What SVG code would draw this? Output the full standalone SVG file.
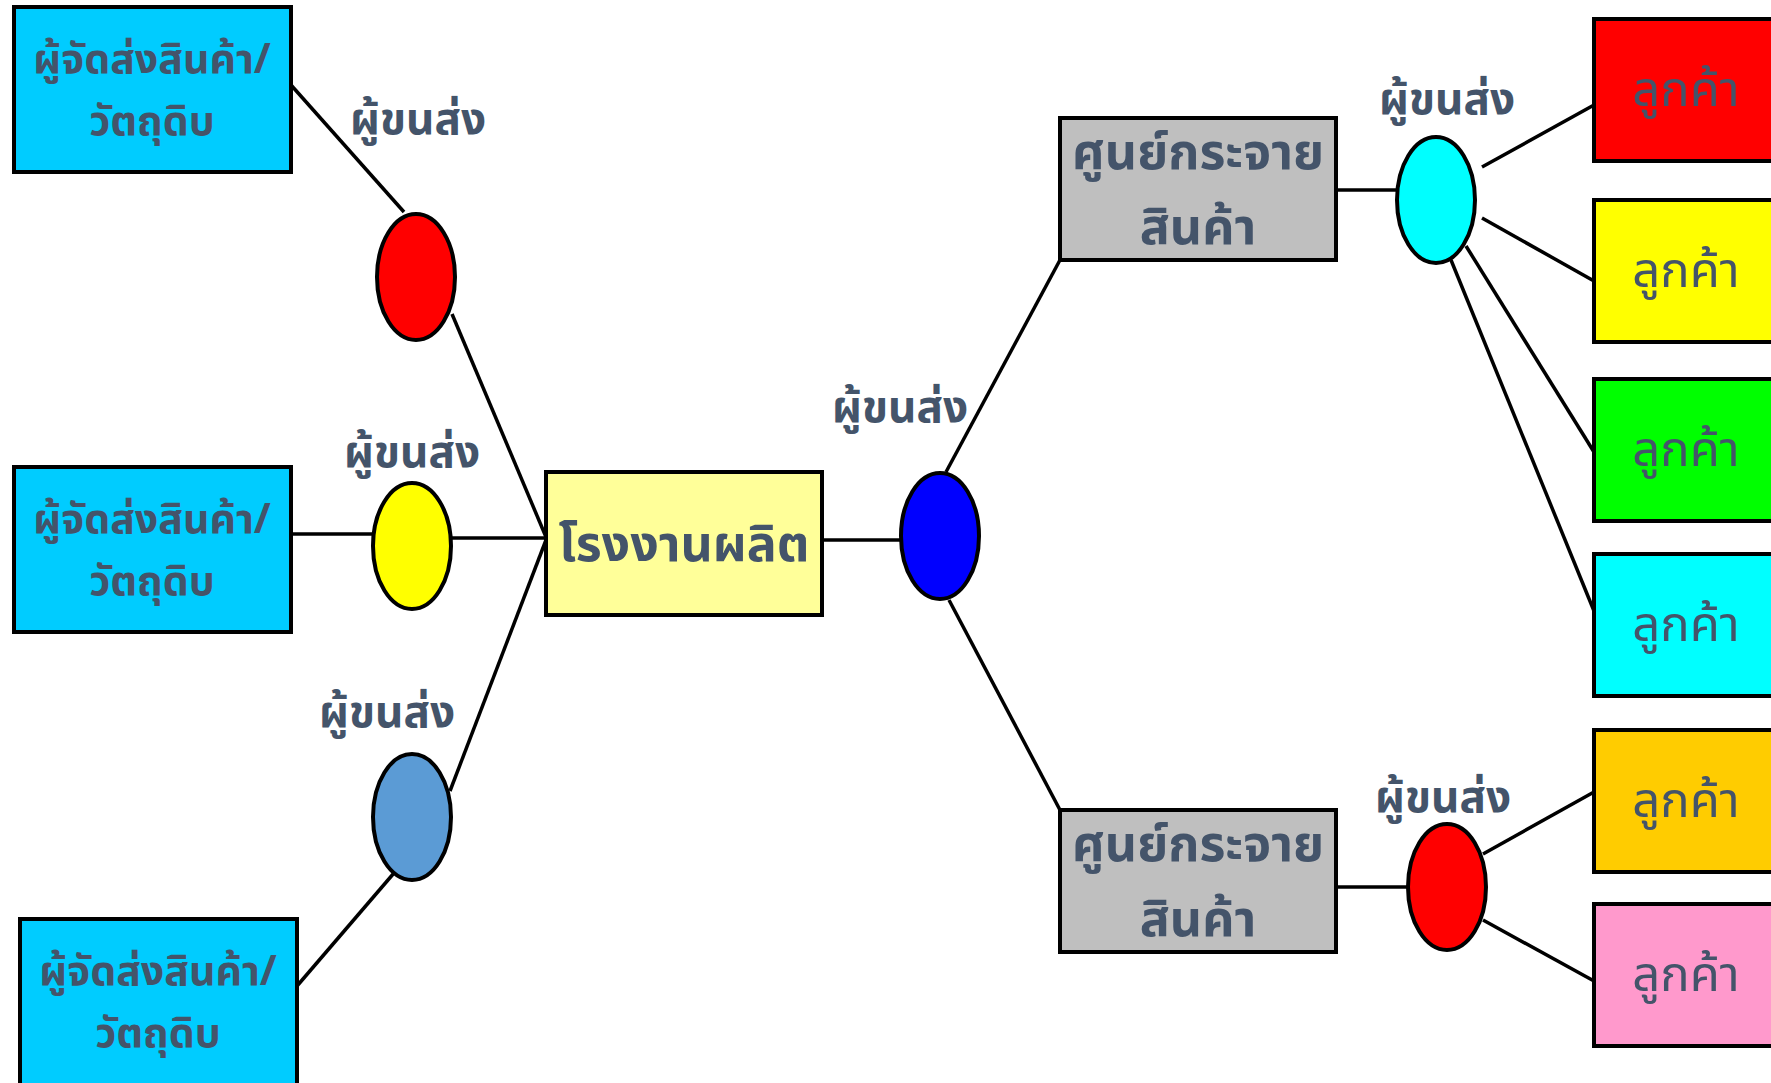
<svg xmlns="http://www.w3.org/2000/svg" width="1771" height="1083" viewBox="0 0 1771 1083">
<style>
.box{stroke:#000;stroke-width:4}
.ell{stroke:#000;stroke-width:4}
.t{font-family:"Noto Sans Thai","Noto Sans","DejaVu Sans",sans-serif;fill:#44546a;text-anchor:middle}
.b{font-weight:bold;font-size:41px}
.d{font-weight:bold;font-size:50px}
.f{font-weight:bold;font-size:50px}
.lab{font-weight:bold;font-size:44px}
.c{font-size:49px}
.ln{stroke:#000;stroke-width:3.5;fill:none}
</style>
<rect width="1771" height="1083" fill="#fff"/>
<g id="connectors">
<line class="ln" x1="291" y1="85" x2="404" y2="212"/>
<line class="ln" x1="452" y1="314" x2="546" y2="537"/>
<line class="ln" x1="291" y1="534" x2="373" y2="534"/>
<line class="ln" x1="452" y1="538" x2="546" y2="538"/>
<line class="ln" x1="450" y1="791" x2="546" y2="540"/>
<line class="ln" x1="297" y1="986" x2="394" y2="873"/>
<line class="ln" x1="822" y1="540" x2="900" y2="540"/>
<line class="ln" x1="946" y1="472" x2="1060" y2="260"/>
<line class="ln" x1="949" y1="600" x2="1060" y2="810"/>
<line class="ln" x1="1336" y1="190" x2="1397" y2="190"/>
<line class="ln" x1="1482" y1="167" x2="1594" y2="105"/>
<line class="ln" x1="1482" y1="218" x2="1594" y2="281"/>
<line class="ln" x1="1466" y1="246" x2="1594" y2="452"/>
<line class="ln" x1="1451" y1="260" x2="1594" y2="611"/>
<line class="ln" x1="1336" y1="887" x2="1407" y2="887"/>
<line class="ln" x1="1483" y1="854" x2="1594" y2="792"/>
<line class="ln" x1="1483" y1="920" x2="1594" y2="981"/>
</g>
<g id="supplier1"><rect class="box" x="14" y="7" width="277" height="165" fill="#00ccff"/>
<text class="t b" x="152" y="73">ผู้จัดส่งสินค้า/</text><text class="t b" x="152" y="135">วัตถุดิบ</text></g>
<g id="supplier2"><rect class="box" x="14" y="467" width="277" height="165" fill="#00ccff"/>
<text class="t b" x="152" y="533">ผู้จัดส่งสินค้า/</text><text class="t b" x="152" y="595">วัตถุดิบ</text></g>
<g id="supplier3"><rect class="box" x="20" y="919" width="277" height="175" fill="#00ccff"/>
<text class="t b" x="158" y="985">ผู้จัดส่งสินค้า/</text><text class="t b" x="158" y="1047">วัตถุดิบ</text></g>
<g id="carrier1"><ellipse class="ell" cx="416" cy="277" rx="39" ry="63" fill="#ff0000"/><text class="t lab" x="418" y="134">ผู้ขนส่ง</text></g>
<g id="carrier2"><ellipse class="ell" cx="412" cy="546" rx="39" ry="63" fill="#ffff00"/><text class="t lab" x="412" y="467">ผู้ขนส่ง</text></g>
<g id="carrier3"><ellipse class="ell" cx="412" cy="817" rx="39" ry="63" fill="#5b9bd5"/><text class="t lab" x="387" y="727">ผู้ขนส่ง</text></g>
<g id="factory"><rect class="box" x="546" y="472" width="276" height="143" fill="#ffff99"/><text class="t f" x="684" y="561">โรงงานผลิต</text></g>
<g id="carrier4"><ellipse class="ell" cx="940" cy="536" rx="39" ry="63" fill="#0000ff"/><text class="t lab" x="900" y="422">ผู้ขนส่ง</text></g>
<g id="dc1"><rect class="box" x="1060" y="118" width="276" height="142" fill="#bfbfbf"/>
<text class="t d" x="1198" y="169">ศูนย์กระจาย</text><text class="t d" x="1198" y="244">สินค้า</text></g>
<g id="dc2"><rect class="box" x="1060" y="810" width="276" height="142" fill="#bfbfbf"/>
<text class="t d" x="1198" y="861">ศูนย์กระจาย</text><text class="t d" x="1198" y="936">สินค้า</text></g>
<g id="carrier5"><ellipse class="ell" cx="1436" cy="200" rx="39" ry="63" fill="#00ffff"/><text class="t lab" x="1447" y="114">ผู้ขนส่ง</text></g>
<g id="carrier6"><ellipse class="ell" cx="1447" cy="887" rx="39" ry="63" fill="#ff0000"/><text class="t lab" x="1443" y="812">ผู้ขนส่ง</text></g>
<g id="cust1"><rect class="box" x="1594" y="19" width="200" height="142" fill="#ff0000"/><text class="t c" x="1686" y="106">ลูกค้า</text></g>
<g id="cust2"><rect class="box" x="1594" y="200" width="200" height="142" fill="#ffff00"/><text class="t c" x="1686" y="287">ลูกค้า</text></g>
<g id="cust3"><rect class="box" x="1594" y="379" width="200" height="142" fill="#00ff00"/><text class="t c" x="1686" y="466">ลูกค้า</text></g>
<g id="cust4"><rect class="box" x="1594" y="554" width="200" height="142" fill="#00ffff"/><text class="t c" x="1686" y="641">ลูกค้า</text></g>
<g id="cust5"><rect class="box" x="1594" y="730" width="200" height="142" fill="#ffcc00"/><text class="t c" x="1686" y="817">ลูกค้า</text></g>
<g id="cust6"><rect class="box" x="1594" y="904" width="200" height="142" fill="#ff99cc"/><text class="t c" x="1686" y="991">ลูกค้า</text></g>
</svg>
